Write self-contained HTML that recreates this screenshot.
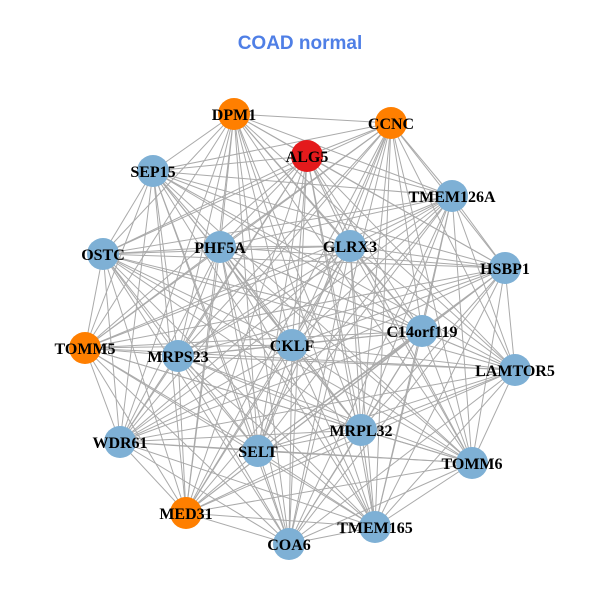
<!DOCTYPE html>
<html><head><meta charset="utf-8"><style>
html,body{margin:0;padding:0;background:#fff;}
svg{display:block;}
</style></head><body>
<svg id="g" width="600" height="600" xmlns="http://www.w3.org/2000/svg">
<rect width="600" height="600" fill="#fff"/>
<text x="300" y="49" text-anchor="middle" font-family="Liberation Sans, sans-serif" font-weight="bold" font-size="19" fill="#4f7fe6">COAD normal</text>
<g id="edges" stroke="#aaaaaa" stroke-width="1"></g>
<g id="nodes"></g>
</svg>
<script>
var N=[["DPM1",234,114,"#ff7f00"],["CCNC",391,123,"#ff7f00"],["ALG5",307,156,"#e41a1c"],["SEP15",153,171,"#7eb0d5"],["TMEM126A",452,196,"#7eb0d5"],["PHF5A",220,247,"#7eb0d5"],["GLRX3",350,246,"#7eb0d5"],["OSTC",103,254,"#7eb0d5"],["HSBP1",505,268,"#7eb0d5"],["C14orf119",422,331,"#7eb0d5"],["TOMM5",85,348,"#ff7f00"],["MRPS23",178,356,"#7eb0d5"],["CKLF",292,345,"#7eb0d5"],["LAMTOR5",515,370,"#7eb0d5"],["MRPL32",361,430,"#7eb0d5"],["WDR61",120,442,"#7eb0d5"],["SELT",258,451,"#7eb0d5"],["TOMM6",472,463,"#7eb0d5"],["MED31",186,513,"#ff7f00"],["TMEM165",375,527,"#7eb0d5"],["COA6",289,544,"#7eb0d5"]];
var ns="http://www.w3.org/2000/svg",E=document.getElementById("edges"),G=document.getElementById("nodes");
for(var i=0;i<N.length;i++)for(var j=i+1;j<N.length;j++){var l=document.createElementNS(ns,"line");l.setAttribute("x1",N[i][1]);l.setAttribute("y1",N[i][2]);l.setAttribute("x2",N[j][1]);l.setAttribute("y2",N[j][2]);E.appendChild(l);}
N.forEach(function(n){var c=document.createElementNS(ns,"circle");c.setAttribute("cx",n[1]);c.setAttribute("cy",n[2]);c.setAttribute("r",16);c.setAttribute("fill",n[3]);G.appendChild(c);});
N.forEach(function(n){var t=document.createElementNS(ns,"text");t.setAttribute("x",n[1]);t.setAttribute("y",n[2]+6);t.setAttribute("text-anchor","middle");t.setAttribute("font-family","Liberation Serif, serif");t.setAttribute("font-weight","bold");t.setAttribute("font-size","16");t.textContent=n[0];G.appendChild(t);});
</script>
</body></html>
